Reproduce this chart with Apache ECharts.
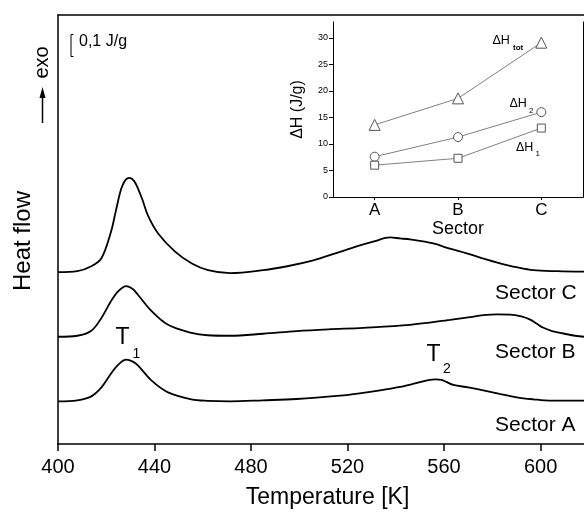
<!DOCTYPE html>
<html>
<head>
<meta charset="utf-8">
<script src="https://cdn.jsdelivr.net/npm/echarts@6/dist/echarts.min.js"></script>
<style>html,body{margin:0;padding:0;background:#fff}#c{width:584px;height:514px}</style>
</head>
<body>
<div id="c"></div>
<script>
// ---- Main DSC curves: temperature [K] vs heat flow (relative units, curves offset) ----
var sectorC = [[400,173],[408,174],[413.8,179],[418,187],[422,214],[424,235],[426.2,257],[428,266],[429.7,268],[431.5,265],[433.2,257],[435,246],[437.3,230],[441.5,212],[448.4,194],[455.3,182],[462.2,175],[471.3,172],[485.1,175],[495,179],[505.8,185],[515,192],[523.8,199],[531,204],[537.6,208],[541.7,207],[545.9,206],[555.5,202],[562,197],[569.4,192],[576,187],[583.2,182],[590,178],[597,175],[607,174],[618,173.5]];
var sectorB = [[400,108],[408,109],[413.8,114],[418,127],[422,144],[425,154],[428.3,159],[431,156],[433.2,150],[438.7,134],[445.6,120],[455.3,112],[462,109.5],[471.3,109],[485,111],[498.9,113.7],[512,115.5],[526.5,117],[545.9,120],[562.5,125],[570,127.5],[576.3,129.7],[582,130.5],[587.4,130.3],[592,128.5],[595.7,125.3],[598.5,121],[601.2,117],[604.5,114],[608.1,112],[613,109.5],[618,108]];
var sectorA = [[400,43],[408,44],[413.8,48],[418,57],[422,71],[425,80],[428.3,85],[431,83],[433.2,79],[438.7,64],[445.6,52],[455.3,45],[462,43.5],[471.3,43],[485,44],[498.9,45.3],[516.9,48.7],[525,51],[533.5,54],[541.7,57.5],[548,61],[553,64],[556.5,65],[559,64.5],[561,62.5],[563.8,59.5],[570,57],[576.3,54],[583,50.5],[590.1,47],[597,45],[603.9,43.7],[618,43.7]];
var tempTicks = [400,440,480,520,560,600];

// ---- Inset: enthalpies per sector ----
var sectors = ['A','B','C'];
var dHtot = [13.6, 18.6, 29.1];
var dH2 = [7.6, 11.3, 16.0];
var dH1 = [6.0, 7.3, 13.0];
var insetTicks = [0,5,10,15,20,25,30];

var FONT = 'Liberation Sans, Arial, sans-serif';
var chart = echarts.init(document.getElementById('c'), null, {renderer:'canvas'});

function txt(x, y, s, size, opts) {
  opts = opts || {};
  return {
    type:'text', x:x, y:y, rotation: opts.rot || 0, z: 100,
    style:{ text:s, fill:'#000', fontFamily:FONT, fontSize:size, fontWeight: opts.bold ? 'bold':'normal',
      align: opts.align || 'left', verticalAlign:'middle' }
  };
}

var insetLine = function(name, data, symbol, size) {
  return {
    name:name, type:'line', xAxisIndex:2, yAxisIndex:2, data:data,
    symbol:symbol, symbolSize:size, showAllSymbol:true,
    lineStyle:{color:'#808080', width:1},
    itemStyle:{color:'#fff', borderColor:'#555', borderWidth:1},
    z: 10, animation:false
  };
};

var mainLine = function(name, data) {
  return {
    name:name, type:'line', xAxisIndex:0, yAxisIndex:0, data:data,
    showSymbol:false, smooth:0.35,
    lineStyle:{color:'#000', width:1.8}, animation:false
  };
};

chart.setOption({
  backgroundColor:'#fff',
  animation:false,
  grid:[
    {left:58, top:15, right:0, height:432},
    {left:333, top:22, width:250, height:175, show:false}
  ],
  xAxis:[
    {type:'value', gridIndex:0, min:400, max:618, interval:40, position:'bottom',
     axisLine:{lineStyle:{color:'#000', width:1.5}},
     axisTick:{show:true, inside:false, length:7, lineStyle:{color:'#000', width:1.5}, customValues: tempTicks},
     axisLabel:{color:'#000', fontFamily:FONT, fontSize:20, margin:13, customValues: tempTicks},
     splitLine:{show:false},
     name:'Temperature [K]', nameLocation:'middle', nameGap:42,
     nameTextStyle:{color:'#000', fontFamily:FONT, fontSize:23, padding:[0,0,0,13]}},
    {type:'value', gridIndex:0, min:400, max:618, position:'top',
     axisLine:{lineStyle:{color:'#000', width:1.5}}, axisTick:{show:false}, axisLabel:{show:false}, splitLine:{show:false}},
    {type:'category', gridIndex:1, data:sectors, boundaryGap:true, position:'bottom',
     axisLine:{lineStyle:{color:'#000', width:1}},
     axisTick:{show:true, alignWithLabel:true, length:3, lineStyle:{color:'#000'}},
     axisLabel:{color:'#000', fontFamily:FONT, fontSize:17, margin:5},
     name:'Sector', nameLocation:'middle', nameGap:23,
     nameTextStyle:{color:'#000', fontFamily:FONT, fontSize:18}},
    {type:'category', gridIndex:1, data:sectors, position:'top',
     axisLine:{lineStyle:{color:'#000', width:1}}, axisTick:{show:false}, axisLabel:{show:false}}
  ],
  yAxis:[
    {type:'value', gridIndex:0, min:0, max:432, position:'left',
     axisLine:{show:true, lineStyle:{color:'#000', width:1.5}}, axisTick:{show:false}, axisLabel:{show:false}, splitLine:{show:false}},
    {type:'value', gridIndex:1, min:0, max:33, interval:5, position:'left',
     axisLine:{show:true, lineStyle:{color:'#000', width:1}},
     axisTick:{show:true, length:4, lineStyle:{color:'#000'}, customValues: insetTicks},
     axisLabel:{color:'#000', fontFamily:FONT, fontSize:9, margin:5, customValues: insetTicks},
     splitLine:{show:false},
     name:'\u0394H (J/g)', nameLocation:'middle', nameGap:27,
     nameTextStyle:{color:'#000', fontFamily:FONT, fontSize:16}},
    {type:'value', gridIndex:1, min:0, max:33, position:'right',
     axisLine:{show:true, lineStyle:{color:'#000', width:1}}, axisTick:{show:false}, axisLabel:{show:false}, splitLine:{show:false}}
  ],
  series:[
    mainLine('Sector C', sectorC),
    mainLine('Sector B', sectorB),
    mainLine('Sector A', sectorA),
    {name:'\u0394Htot', type:'line', xAxisIndex:2, yAxisIndex:1, data:dHtot, symbol:'triangle', symbolSize:11,
     lineStyle:{color:'#808080', width:1}, itemStyle:{color:'#fff', borderColor:'#555', borderWidth:1}, z:10},
    {name:'\u0394H2', type:'line', xAxisIndex:2, yAxisIndex:1, data:dH2, symbol:'circle', symbolSize:9,
     lineStyle:{color:'#808080', width:1}, itemStyle:{color:'#fff', borderColor:'#555', borderWidth:1}, z:10},
    {name:'\u0394H1', type:'line', xAxisIndex:2, yAxisIndex:1, data:dH1, symbol:'rect', symbolSize:8,
     lineStyle:{color:'#808080', width:1}, itemStyle:{color:'#fff', borderColor:'#555', borderWidth:1}, z:10}
  ],
  graphic:[
    txt(23, 241, 'Heat flow', 24, {rot:Math.PI/2, align:'center'}),
    txt(42.5, 62.5, 'exo', 20, {rot:Math.PI/2, align:'center'}),
    {type:'line', z:100, shape:{x1:42.5, y1:123, x2:42.5, y2:95}, style:{stroke:'#000', lineWidth:1.5}},
    {type:'polygon', z:100, shape:{points:[[42.5,87],[39.5,98],[45.5,98]]}, style:{fill:'#000'}},
    {type:'polyline', z:100, shape:{points:[[73.5,34.5],[71,34.5],[71,56.5],[73.5,56.5]]}, style:{stroke:'#000', lineWidth:1, fill:null}},
    txt(79, 42, '0,1 J/g', 16),
    txt(495, 293, 'Sector C', 21),
    txt(495, 352, 'Sector B', 21),
    txt(495, 425, 'Sector A', 21),
    txt(115.5, 338, 'T', 23),
    txt(132.5, 354, '1', 14),
    txt(426.5, 354.5, 'T', 23),
    txt(443, 369, '2', 14),
    txt(492.5, 41, '\u0394H', 12.5),
    txt(513, 48, 'tot', 8, {bold:true}),
    txt(509.5, 104, '\u0394H', 12.5),
    txt(529, 110.5, '2', 8),
    txt(516, 147.5, '\u0394H', 12.5),
    txt(535.5, 153.5, '1', 8)
  ]
});
</script>
</body>
</html>
